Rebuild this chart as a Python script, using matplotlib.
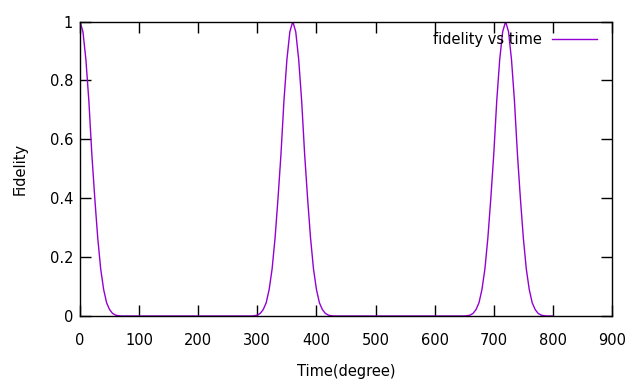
import matplotlib
matplotlib.use("Agg")
import matplotlib.pyplot as plt
from matplotlib.ticker import FixedLocator, FixedFormatter

# Data (degrees, fidelity)
time_deg = [
    0, 5, 10, 15, 20, 25, 30, 35, 40, 45, 50, 55, 60, 65, 70, 80,
    280, 290, 295, 300, 305, 310, 315, 320, 325, 330, 335, 340, 345, 350, 355,
    360, 365, 370, 375, 380, 385, 390, 395, 400, 405, 410, 415, 420, 425, 430, 440,
    640, 650, 655, 660, 665, 670, 675, 680, 685, 690, 695, 700, 705, 710, 715,
    720, 725, 730, 735, 740, 745, 750, 755, 760, 765, 770, 775, 780, 785, 790, 800,
]
fidelity = [
    1.0, 0.965, 0.87, 0.73, 0.55, 0.40, 0.265, 0.16, 0.09, 0.045, 0.022, 0.009, 0.003, 0.001, 0.0, 0.0,
    0.0, 0.0, 0.001, 0.003, 0.009, 0.022, 0.045, 0.09, 0.16, 0.265, 0.40, 0.55, 0.73, 0.87, 0.965,
    1.0, 0.965, 0.87, 0.73, 0.55, 0.40, 0.265, 0.16, 0.09, 0.045, 0.022, 0.009, 0.003, 0.001, 0.0, 0.0,
    0.0, 0.0, 0.001, 0.003, 0.009, 0.022, 0.045, 0.09, 0.16, 0.265, 0.40, 0.55, 0.73, 0.87, 0.965,
    1.0, 0.965, 0.87, 0.73, 0.55, 0.40, 0.265, 0.16, 0.09, 0.045, 0.022, 0.009, 0.003, 0.001, 0.0, 0.0,
]

x_ticks = [0, 100, 200, 300, 400, 500, 600, 700, 800, 900]
x_tick_labels = ["0", "100", "200", "300", "400", "500", "600", "700", "800", "900"]
y_ticks = [0, 0.2, 0.4, 0.6, 0.8, 1.0]
y_tick_labels = ["0", "0.2", "0.4", "0.6", "0.8", "1"]

plt.rcParams['font.family'] = ['DejaVu Sans']

fig = plt.figure(figsize=(6.4, 3.84), dpi=100)
ax = fig.add_axes([80/640, 1 - 316/384, (612 - 80)/640, (316 - 21.5)/384])

ax.plot(time_deg, fidelity, color="#9400D3", lw=1.0, label="fidelity vs time")

ax.set_xlim(0, 900)
ax.set_ylim(0, 1)
ax.xaxis.set_major_locator(FixedLocator(x_ticks))
ax.xaxis.set_major_formatter(FixedFormatter(x_tick_labels))
ax.yaxis.set_major_locator(FixedLocator(y_ticks))
ax.yaxis.set_major_formatter(FixedFormatter(y_tick_labels))
ax.tick_params(direction="in", length=8, width=1, top=True, right=True,
               labelsize=10.5, colors="black")
ax.tick_params(axis="x", pad=12)
ax.tick_params(axis="y", pad=5)
for s in ax.spines.values():
    s.set_linewidth(1.0)

ax.set_xlabel("Time(degree)", fontsize=10.5, labelpad=12)
ax.set_ylabel("Fidelity", fontsize=10.5, labelpad=16)

leg = ax.legend(loc="upper right", frameon=False, fontsize=10.5,
                markerfirst=False, handlelength=3.1, handletextpad=0.7,
                borderaxespad=0.35, bbox_to_anchor=(0.993, 1.0))

fig.savefig("out.png", dpi=100)
